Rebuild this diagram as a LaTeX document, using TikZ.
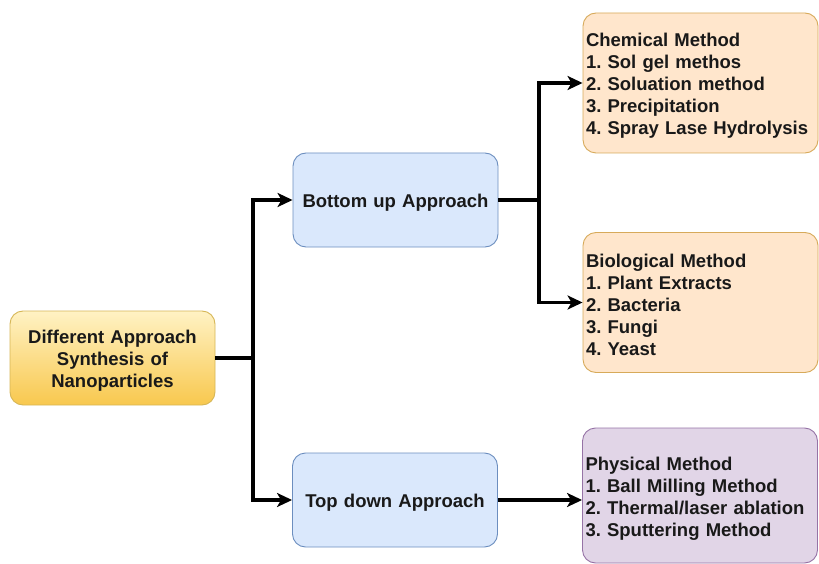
\documentclass[tikz,border=0pt]{standalone}
\usepackage{fontspec}
\setmainfont{Liberation Sans}
\usepackage{tikz}
\usetikzlibrary{arrows.meta,positioning,calc}
\frenchspacing

\definecolor{yelTop}{RGB}{255,242,196}
\definecolor{yelBot}{RGB}{248,200,78}
\definecolor{yelLine}{RGB}{214,182,86}
\definecolor{bluFill}{RGB}{218,232,252}
\definecolor{bluLine}{RGB}{108,142,191}
\definecolor{orgFill}{RGB}{255,230,204}
\definecolor{orgLine}{RGB}{215,170,90}
\definecolor{purFill}{RGB}{225,213,231}
\definecolor{purLine}{RGB}{150,115,166}

\begin{document}
\begin{tikzpicture}[x=1pt,y=-1pt,>={Stealth[length=15pt,width=14pt,inset=4pt]},
	box/.style={rounded corners=13pt, line width=0.9pt, inner sep=3pt, text=black!90,
		font=\bfseries\fontsize{18.5}{22}\selectfont,
		execute at begin node={\rule{0pt}{19pt}}},
	approach/.style={box, draw=bluLine, fill=bluFill, minimum width=205pt, minimum height=94pt,
		text width=199pt, align=center},
	method/.style={box, minimum width=235pt, minimum height=140pt, text width=229pt, align=left},
	conn/.style={line width=3.2pt, black}]
	\useasboundingbox (0,0) rectangle (819,564);

	\node (src) at (112.5,358) [box, draw=yelLine, top color=yelTop, bottom color=yelBot,
		minimum width=205pt, minimum height=94pt, text width=199pt, align=center]
		{Different Approach\\Synthesis of\\Nanoparticles};

	\node (bup) at (395.5,200) [approach] {Bottom up Approach};
	\node (tdn) at (395,500) [approach] {Top down Approach};

	\node (chem) at (700.5,83) [method, draw=orgLine, fill=orgFill]
		{Chemical Method\\1. Sol gel methos\\2. Soluation method\\3. Precipitation\\4. Spray Lase Hydrolysis};
	\node (bio) at (700.5,302.5) [method, draw=orgLine, fill=orgFill]
		{Biological Method\\1. Plant Extracts\\2. Bacteria\\3. Fungi\\4. Yeast};
	\node (phys) at (700,495.5) [method, draw=purLine, fill=purFill, minimum height=135pt]
		{Physical Method\\1. Ball Milling Method\\2. Thermal/laser ablation\\3. Sputtering Method};

	% junctions
	\coordinate (j1) at (253,358);
	\coordinate (j2) at (539,200);

	\draw [conn] (src.east) -- (j1);
	\draw [conn, ->] (j1) |- (bup.west);
	\draw [conn, ->] (j1) |- (tdn.west);

	\draw [conn] (bup.east) -- (j2);
	\draw [conn, ->] (j2) |- (chem.west);
	\draw [conn, ->] (j2) |- (bio.west);

	\draw [conn, ->] (tdn.east) -- (tdn.east -| phys.west);
\end{tikzpicture}
\end{document}
